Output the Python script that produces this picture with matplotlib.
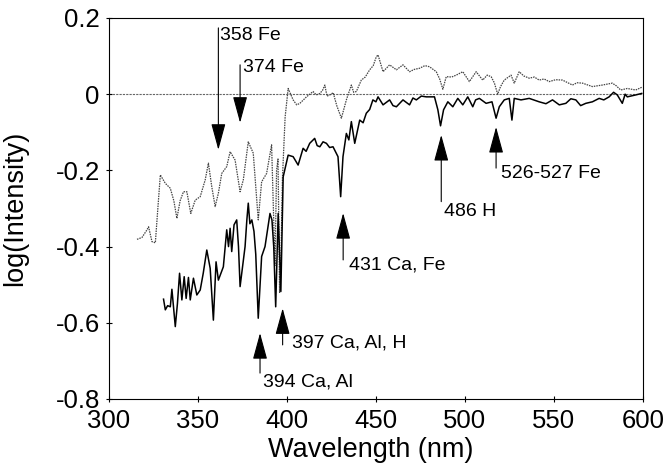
"""Spectrum plot: log(Intensity) vs wavelength with absorption line markers."""

import matplotlib
matplotlib.use("Agg")
import matplotlib.pyplot as plt
from matplotlib.ticker import FuncFormatter

# ------------------------------------------------------------
# data
# ------------------------------------------------------------

upper_wl = [315.8, 318.6, 321.4, 322.3, 324.2, 326.1, 327.5, 328.9, 331.7, 334.5,
            336.5, 338.2, 340.0, 341.9, 343.8, 346.0, 348.5, 351.3, 354.1, 355.9,
            357.8, 359.7, 361.5, 363.4, 366.2, 368.1, 370.9, 373.7, 375.5, 378.3,
            381.1, 383.9, 385.8, 388.6, 391.4, 392.4, 393.3, 394.2, 395.0, 395.9,
            396.7, 397.5, 399.0, 400.7, 403.5, 405.5, 407.3, 411.0, 414.7, 416.5,
            418.5, 420.0, 421.3, 422.5, 424.1, 426.0, 428.0, 430.6, 433.4, 436.2,
            437.5, 439.0, 441.8, 444.0, 446.5, 448.5, 450.2, 451.2, 454.0, 457.7,
            461.5, 465.2, 468.9, 471.5, 474.5, 477.5, 480.1, 483.9, 485.8, 487.6,
            489.5, 492.5, 495.1, 498.8, 502.5, 506.3, 510.0, 512.5, 514.7, 516.5,
            518.4, 520.0, 522.1, 525.9, 527.7, 530.5, 533.0, 536.1, 539.0, 541.7,
            544.5, 547.3, 551.0, 554.8, 560.4, 563.0, 566.0, 571.6, 577.2, 582.8,
            585.0, 587.5, 591.2, 595.9, 599.3]
upper_val = [-0.381, -0.376, -0.356, -0.348, -0.387, -0.390, -0.300, -0.212, -0.234, -0.247,
             -0.280, -0.326, -0.280, -0.256, -0.256, -0.313, -0.278, -0.269, -0.225, -0.181,
             -0.243, -0.295, -0.260, -0.208, -0.190, -0.151, -0.173, -0.256, -0.225, -0.125,
             -0.155, -0.330, -0.230, -0.208, -0.133, -0.300, -0.450, -0.200, -0.170, -0.520,
             -0.420, -0.220, -0.060, 0.015, -0.015, -0.028, -0.024, -0.007, 0.007, -0.002,
             0.002, 0.010, 0.024, -0.005, -0.002, 0.004, -0.030, -0.063, -0.015, 0.024,
             0.005, 0.007, 0.037, 0.045, 0.064, 0.075, 0.098, 0.103, 0.059, 0.077,
             0.064, 0.077, 0.059, 0.065, 0.068, 0.075, 0.072, 0.059, 0.040, 0.013,
             0.046, 0.045, 0.050, 0.059, 0.033, 0.059, 0.037, 0.050, 0.046, 0.030,
             0.000, 0.020, 0.037, 0.050, 0.029, 0.059, 0.048, 0.042, 0.045, 0.037,
             0.040, 0.033, 0.038, 0.037, 0.024, 0.030, 0.029, 0.020, 0.024, 0.029,
             0.022, 0.011, 0.015, 0.011, 0.018]

lower_wl = [330.7, 331.7, 333.0, 334.5, 335.4, 337.3, 338.5, 339.7, 341.0, 342.3,
            343.4, 344.7, 345.7, 347.5, 349.4, 351.3, 353.0, 355.0, 356.9, 358.7,
            360.2, 361.5, 364.3, 366.2, 367.2, 368.1, 369.0, 370.3, 371.8, 372.8,
            373.7, 376.5, 377.5, 378.3, 379.2, 380.3, 381.5, 382.5, 383.9, 385.8,
            387.7, 389.0, 390.5, 391.6, 392.6, 393.7, 395.1, 396.6, 397.9, 399.2,
            400.7, 403.5, 406.3, 409.1, 410.8, 412.8, 415.6, 417.0, 418.5, 420.3,
            422.2, 424.0, 425.9, 428.7, 430.2, 431.5, 433.4, 434.8, 436.2, 438.1,
            440.9, 442.8, 444.6, 446.5, 448.3, 450.0, 451.2, 454.0, 457.7, 459.6,
            461.5, 465.2, 468.9, 470.8, 472.7, 475.5, 478.3, 482.9, 484.8, 486.3,
            488.0, 490.4, 493.2, 496.0, 498.8, 501.6, 504.4, 506.0, 508.1, 511.9,
            515.2, 517.5, 519.3, 522.1, 524.9, 526.4, 527.7, 531.5, 536.1, 541.7,
            545.5, 549.2, 553.0, 556.7, 559.5, 562.3, 565.0, 567.9, 571.6, 575.4,
            578.0, 581.0, 583.5, 585.6, 588.4, 590.0, 591.2, 595.9, 599.3]
lower_val = [-0.538, -0.566, -0.555, -0.558, -0.512, -0.610, -0.550, -0.470, -0.540, -0.479,
             -0.536, -0.481, -0.540, -0.483, -0.527, -0.514, -0.470, -0.409, -0.457, -0.593,
             -0.440, -0.488, -0.453, -0.356, -0.400, -0.352, -0.413, -0.343, -0.330, -0.400,
             -0.505, -0.400, -0.330, -0.286, -0.340, -0.330, -0.360, -0.420, -0.588, -0.426,
             -0.400, -0.360, -0.313, -0.330, -0.400, -0.558, -0.313, -0.518, -0.217, -0.190,
             -0.160, -0.164, -0.186, -0.142, -0.150, -0.129, -0.116, -0.135, -0.138, -0.125,
             -0.129, -0.140, -0.138, -0.164, -0.269, -0.164, -0.103, -0.120, -0.072, -0.129,
             -0.068, -0.075, -0.050, -0.040, -0.015, -0.020, -0.007, -0.028, -0.015, -0.030,
             -0.033, -0.015, -0.028, -0.010, -0.015, -0.005, -0.007, -0.007, -0.041, -0.083,
             -0.041, -0.020, -0.033, -0.011, -0.028, -0.007, -0.033, -0.015, -0.011, -0.024,
             -0.020, -0.063, -0.033, -0.015, -0.011, -0.068, -0.011, -0.015, -0.011, -0.020,
             -0.025, -0.015, -0.028, -0.024, -0.012, -0.015, -0.030, -0.024, -0.020, -0.011,
             -0.015, -0.007, 0.005, -0.002, -0.024, 0.000, -0.007, -0.002, 0.002]

# line markers: label, arrow x, arrow tip y, arrow tail y, text x, text y
line_labels = ["358 Fe", "374 Fe", "394 Ca, Al", "397 Ca, Al, H",
               "431 Ca, Fe", "486 H", "526-527 Fe"]
arrow_x = [361.5, 373.7, 384.9, 397.6, 431.6, 486.7, 517.5]
tip_y = [-0.146, -0.075, -0.627, -0.562, -0.312, -0.107, -0.086]
tail_y = [0.174, 0.077, -0.732, -0.658, -0.435, -0.282, -0.194]
text_x = [362.3, 375.3, 386.4, 403.0, 434.9, 488.5, 520.3]
text_y = [0.153, 0.071, -0.755, -0.653, -0.448, -0.308, -0.207]

x_ticks = [300, 350, 400, 450, 500, 550, 600]
y_ticks = [-0.8, -0.6, -0.4, -0.2, 0, 0.2]

# ------------------------------------------------------------
# plot
# ------------------------------------------------------------

plt.rcParams["font.family"] = ["Liberation Sans", "DejaVu Sans"]
plt.rcParams["axes.unicode_minus"] = False

fig = plt.figure(figsize=(6.68, 4.66), dpi=100)
ax = fig.add_axes([0.163, 0.1438, 0.7995, 0.8176])

ax.axhline(0, color="#666666", lw=0.8, ls=(0, (2, 1)), zorder=1)
ax.plot(upper_wl, upper_val, color="#444444", lw=0.9, ls=(0, (1.2, 0.8)), zorder=2)
ax.plot(lower_wl, lower_val, color="black", lw=1.1, zorder=3)

for lab, ax_x, ty, tl, tx, tyy in zip(line_labels, arrow_x, tip_y, tail_y, text_x, text_y):
    ax.annotate("", xy=(ax_x, ty), xytext=(ax_x, tl),
                arrowprops=dict(arrowstyle="-|>,head_length=1.65,head_width=0.45",
                                mutation_scale=10, color="black", lw=0.8,
                                shrinkA=0, shrinkB=0))
    ax.text(tx, tyy, lab, fontsize=14, ha="left", va="center")

ax.set_xlim(300, 600)
ax.set_ylim(-0.8, 0.2)
ax.set_xticks(x_ticks)
ax.set_yticks(y_ticks)
ax.yaxis.set_major_formatter(FuncFormatter(lambda v, p: "0" if abs(v) < 1e-9 else f"{v:.1f}"))
ax.tick_params(direction="inout", length=5, width=0.8, labelsize=18.5)
ax.tick_params(axis="x", pad=5)
ax.tick_params(axis="y", pad=4)

for sp in ax.spines.values():
    sp.set_linewidth(0.8)

ax.set_xlabel("Wavelength (nm)", fontsize=19.5)
ax.set_ylabel("log(Intensity)", fontsize=19.5)
ax.xaxis.set_label_coords(0.49, -0.1)
ax.yaxis.set_label_coords(-0.151, 0.5)

fig.savefig("out.png", dpi=100)
